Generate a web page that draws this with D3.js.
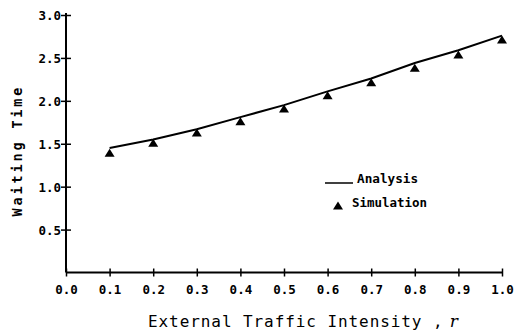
<!DOCTYPE html>
<html>
<head>
	<meta charset="utf-8">
	<script src="https://d3js.org/d3.v7.min.js"></script>
	<style>
		body { margin: 0; background: #fff; }
		text { font-family: "DejaVu Sans Mono", monospace; fill: #000; }
	</style>
</head>
<body>
	<div id="chart"></div>
	<script>
		// traffic intensity r
		let intensity = [0.1, 0.2, 0.3, 0.4, 0.5, 0.6, 0.7, 0.8, 0.9, 1.0];
		// waiting time, analysis (line) and simulation (triangles)
		let analysis = [1.45, 1.55, 1.67, 1.81, 1.95, 2.11, 2.26, 2.44, 2.59, 2.76];
		let simulation = [1.39, 1.505, 1.625, 1.757, 1.905, 2.06, 2.21, 2.38, 2.534, 2.709];

		let xTicks = [0, 0.1, 0.2, 0.3, 0.4, 0.5, 0.6, 0.7, 0.8, 0.9, 1.0];
		let yTicks = [0.5, 1.0, 1.5, 2.0, 2.5, 3.0];

		let width = 516, height = 330;
		let margin = { top: 15, right: 14, bottom: 57.5, left: 66 };

		let svg = d3.select("#chart").append("svg")
			.attr("width", width)
			.attr("height", height);

		let x = d3.scaleLinear().domain([0, 1]).range([margin.left, width - margin.right]);
		let y = d3.scaleLinear().domain([0, 3]).range([height - margin.bottom, margin.top]);

		// x axis, ticks cross the line
		let gx = svg.append("g")
			.attr("transform", "translate(0," + y(0) + ")")
			.call(d3.axisBottom(x).tickValues(xTicks).tickFormat(d3.format(".1f")).tickSizeOuter(0));
		gx.select(".domain").attr("stroke-width", 2).attr("d", "M" + x(0) + ",0H" + x(1));
		gx.selectAll(".tick line").attr("y1", -4).attr("y2", 4).attr("stroke-width", 1.5);
		gx.selectAll(".tick text")
			.attr("y", 21).attr("dy", null)
			.style("font-size", "12.5px").style("font-weight", "bold");

		// y axis
		let gy = svg.append("g")
			.attr("transform", "translate(" + x(0) + ",0)")
			.call(d3.axisLeft(y).tickValues(yTicks).tickFormat(d3.format(".1f")).tickSizeOuter(0));
		gy.select(".domain").attr("stroke-width", 2).attr("d", "M0," + (y(3) - 2) + "V" + y(0));
		gy.selectAll(".tick line").attr("x1", -5).attr("x2", 5).attr("stroke-width", 1.5);
		gy.selectAll(".tick text")
			.attr("x", -5).attr("dy", "0.36em")
			.style("font-size", "12.5px").style("font-weight", "bold");
		gy.selectAll("text").attr("font-family", null);
		gx.selectAll("text").attr("font-family", null);

		// analysis line
		let line = d3.line()
			.x((d, i) => x(intensity[i]))
			.y(d => y(d));
		svg.append("path")
			.datum(analysis)
			.attr("d", line)
			.attr("fill", "none")
			.attr("stroke", "#000")
			.attr("stroke-width", 2);

		// simulation triangles
		let tri = "M0,-4.5L5,3.5L-5,3.5Z";
		svg.append("g").selectAll("path")
			.data(simulation)
			.enter().append("path")
			.attr("d", tri)
			.attr("transform", (d, i) => "translate(" + x(intensity[i]) + "," + y(d) + ")")
			.attr("fill", "#000");

		// legend
		svg.append("line")
			.attr("x1", 325).attr("x2", 353).attr("y1", 183).attr("y2", 183)
			.attr("stroke", "#000").attr("stroke-width", 1.5);
		svg.append("text")
			.attr("x", 357).attr("y", 183)
			.attr("textLength", 61).attr("lengthAdjust", "spacingAndGlyphs")
			.style("font-size", "12px").style("font-weight", "bold")
			.text("Analysis");
		svg.append("path")
			.attr("d", tri)
			.attr("transform", "translate(338,206)")
			.attr("fill", "#000");
		svg.append("text")
			.attr("x", 352).attr("y", 207)
			.attr("textLength", 75).attr("lengthAdjust", "spacingAndGlyphs")
			.style("font-size", "12px").style("font-weight", "bold")
			.text("Simulation");

		// axis titles
		svg.append("text")
			.attr("x", 148).attr("y", 327)
			.attr("textLength", 310).attr("lengthAdjust", "spacing")
			.style("font-size", "16px")
			.text("External Traffic Intensity ,")
			.append("tspan")
			.style("font-style", "italic").style("font-family", "DejaVu Serif")
			.style("font-size", "17px")
			.text(" r");

		svg.append("text")
			.attr("transform", "translate(22,152) rotate(-90)")
			.attr("text-anchor", "middle")
			.attr("textLength", 129).attr("lengthAdjust", "spacing")
			.style("font-size", "13.5px").style("font-weight", "bold")
			.text("Waiting Time");
	</script>
</body>
</html>
